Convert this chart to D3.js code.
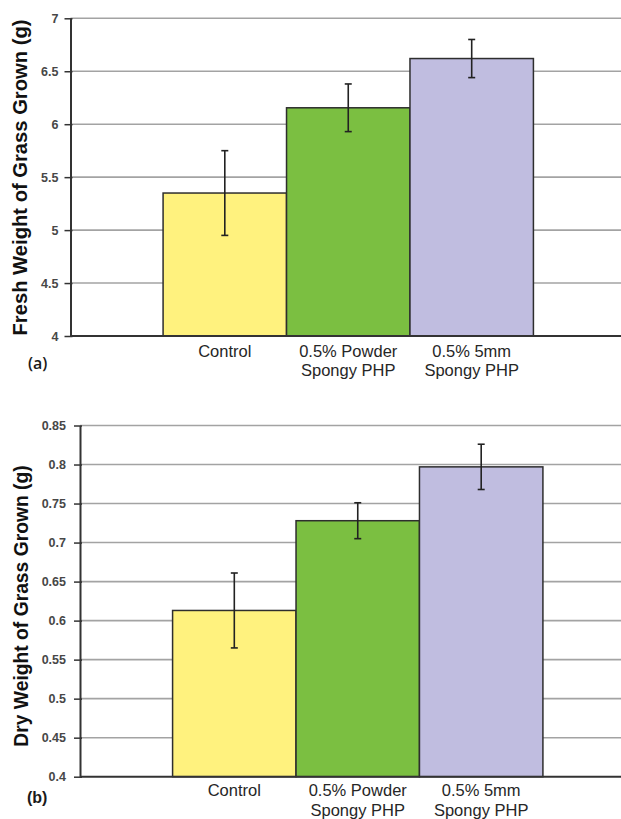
<!DOCTYPE html>
<html><head><meta charset="utf-8">
<script src="https://cdn.jsdelivr.net/npm/d3@7"></script>
<style>body{margin:0;background:#fff;}svg{display:block;}</style>
</head><body>
<svg id="c" width="621" height="819"></svg>
<script>
const categories = ["Control", "0.5% Powder\nSpongy PHP", "0.5% 5mm\nSpongy PHP"];
const colors = ["#fff27e", "#7bbf41", "#c0bde0"];
const freshValues = [5.35, 6.155, 6.62];
const freshErrors = [0.40, 0.225, 0.18];
const freshTicks = [4, 4.5, 5, 5.5, 6, 6.5, 7];
const freshTickLabels = ["4", "4.5", "5", "5.5", "6", "6.5", "7"];
const dryValues = [0.613, 0.728, 0.797];
const dryErrors = [0.048, 0.023, 0.029];
const dryTicks = [0.4, 0.45, 0.5, 0.55, 0.6, 0.65, 0.7, 0.75, 0.8, 0.85];
const dryTickLabels = ["0.4", "0.45", "0.5", "0.55", "0.6", "0.65", "0.7", "0.75", "0.8", "0.85"];

const svg = d3.select("#c");

function panel(o) {
  const g = svg.append("g");
  const y = d3.scaleLinear().domain([o.ticks[0], o.ticks[o.ticks.length-1]]).range([o.bottom, o.top]);
  const x = d3.scaleBand().domain(categories).range([o.left, o.right]).paddingInner(0).paddingOuter(0.75);
  g.selectAll("line.grid").data(o.ticks.slice(1)).join("line")
    .attr("x1", o.left).attr("x2", o.right)
    .attr("y1", d => y(d)).attr("y2", d => y(d))
    .attr("stroke", "#a3a3a3").attr("stroke-width", 1.6);
  g.selectAll("rect").data(o.values).join("rect")
    .attr("x", (d,i) => x(categories[i])).attr("width", x.bandwidth())
    .attr("y", d => y(d)).attr("height", d => o.bottom - y(d))
    .attr("fill", (d,i) => colors[i]).attr("stroke", "#2e2e2e").attr("stroke-width", 1.5);
  const eb = g.selectAll("g.eb").data(o.values).join("g");
  eb.append("line")
    .attr("x1", (d,i) => x(categories[i]) + x.bandwidth()/2).attr("x2", (d,i) => x(categories[i]) + x.bandwidth()/2)
    .attr("y1", (d,i) => y(d + o.errors[i])).attr("y2", (d,i) => y(d - o.errors[i]))
    .attr("stroke", "#222").attr("stroke-width", 1.6);
  [1, -1].forEach(s => {
    eb.append("line")
      .attr("x1", (d,i) => x(categories[i]) + x.bandwidth()/2 - 3.5).attr("x2", (d,i) => x(categories[i]) + x.bandwidth()/2 + 3.5)
      .attr("y1", (d,i) => y(d + s*o.errors[i])).attr("y2", (d,i) => y(d + s*o.errors[i]))
      .attr("stroke", "#222").attr("stroke-width", 1.6);
  });
  g.append("line").attr("x1", o.left).attr("x2", o.right).attr("y1", o.bottom).attr("y2", o.bottom)
    .attr("stroke", "#333").attr("stroke-width", 2);
  const ax = g.append("g").attr("transform", `translate(${o.left},0)`)
    .call(d3.axisLeft(y).tickValues(o.ticks).tickFormat((d,i) => o.tickLabels[i]).tickSizeInner(6).tickSizeOuter(0).tickPadding(o.tickPad));
  ax.select(".domain").attr("stroke", "#333").attr("stroke-width", 2);
  ax.selectAll(".tick line").attr("stroke", "#333").attr("stroke-width", 1.5).attr("x2", -6).attr("x1", 2);
  ax.selectAll(".tick text").attr("font-family", "Liberation Sans, Arial, sans-serif")
    .attr("font-size", 12.5).attr("font-weight", "bold").attr("fill", "#474747");
  const cl = g.selectAll("text.cat").data(categories).join("text")
    .attr("text-anchor", "middle").attr("font-family", "Liberation Sans, Arial, sans-serif")
    .attr("font-size", 16.5).attr("fill", "#262626")
    .attr("x", d => x(d) + x.bandwidth()/2).attr("y", o.catY);
  cl.selectAll("tspan").data(d => d.split("\n")).join("tspan")
    .attr("x", function(){ return this.parentNode.getAttribute("x"); })
    .attr("dy", (d,i) => i === 0 ? 0 : o.lineH)
    .text(d => d);
  g.append("text").attr("transform", `translate(${o.titleX},${o.titleY}) rotate(-90)`)
    .attr("text-anchor", "middle").attr("font-family", "Liberation Sans, Arial, sans-serif")
    .attr("font-size", o.titleSize).attr("font-weight", "bold").attr("fill", "#111")
    .text(o.title);
  g.append("text").attr("x", o.labX).attr("y", o.labY)
    .attr("font-family", o.labFont).attr("font-size", 16).attr("font-weight", o.labWeight).attr("fill", "#1a1a1a")
    .text(o.label);
}

panel({values: freshValues, errors: freshErrors, ticks: freshTicks, tickLabels: freshTickLabels,
  left: 70.5, right: 626, top: 18.3, bottom: 336, tickPad: 6,
  catY: 357, lineH: 19, title: "Fresh Weight of Grass Grown (g)", titleX: 27, titleY: 177.5, titleSize: 20.2,
  label: "(a)", labX: 28, labY: 369, labFont: "Open Sans, sans-serif", labWeight: 600});

panel({values: dryValues, errors: dryErrors, ticks: dryTicks, tickLabels: dryTickLabels,
  left: 80, right: 635.5, top: 425.5, bottom: 776.7, tickPad: 8,
  catY: 796, lineH: 20, title: "Dry Weight of Grass Grown (g)", titleX: 28, titleY: 606, titleSize: 19.3,
  label: "(b)", labX: 27, labY: 803, labFont: "Liberation Sans, Arial, sans-serif", labWeight: "bold"});
</script>
</body></html>
